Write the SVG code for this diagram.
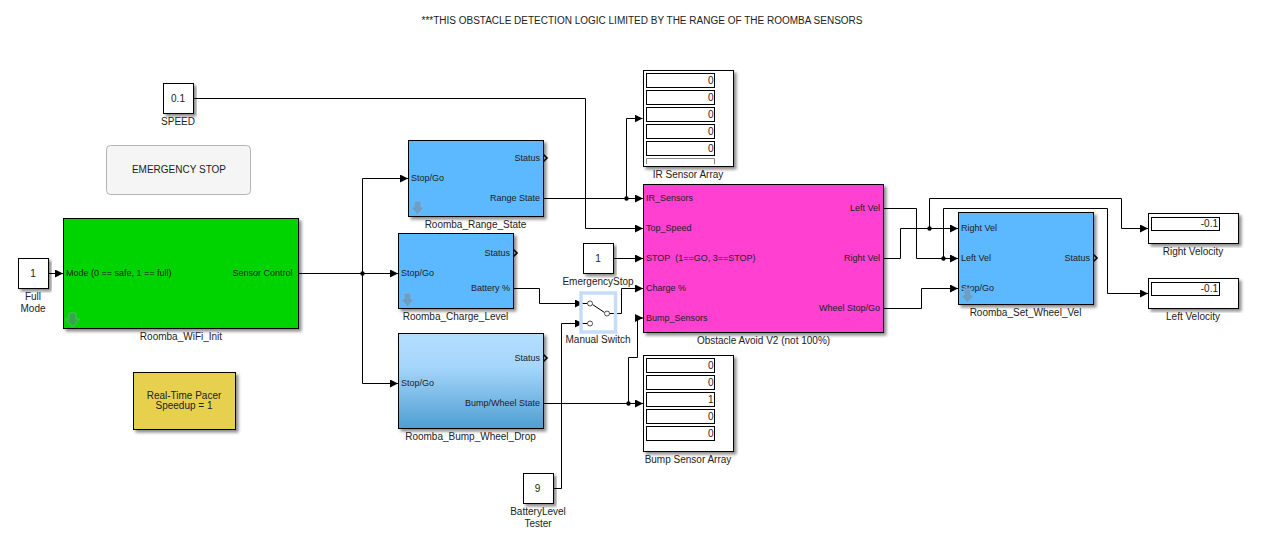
<svg xmlns="http://www.w3.org/2000/svg" width="1266" height="535" viewBox="0 0 1266 535">
<style>
text{font-family:"Liberation Sans",Arial,sans-serif;font-size:10px;fill:#222;white-space:pre}
.p{font-size:9px}
.e{text-anchor:end}
.m{text-anchor:middle}
.b{stroke:#000;stroke-width:1;fill:#fff;filter:url(#sh)}
.d{stroke:#000;stroke-width:1;fill:#fff}
.w{fill:none;stroke:#000;stroke-width:1}
.o{fill:#fff;stroke:#222;stroke-width:.8}
</style>
<defs>
<filter id="sh" x="-10%" y="-10%" width="120%" height="125%"><feDropShadow dx="2.5" dy="2.5" stdDeviation="1.4" flood-color="#000" flood-opacity=".45"/></filter>
<marker id="a" markerUnits="userSpaceOnUse" markerWidth="9" markerHeight="9" refX="8" refY="4" orient="auto"><path d="M0 0L8 4L0 8z" fill="#000"/></marker>
<linearGradient id="g" x1="0" y1="0" x2="0" y2="1"><stop offset="0" stop-color="#b3deff"/><stop offset=".35" stop-color="#a5d6fb"/><stop offset="1" stop-color="#4f9ed3"/></linearGradient>
<path id="ic" d="M3.500 .5h7v6h3.500L7 14.500 0 6.500h3.500z" fill="#6a9fc8" stroke="#7db6e0" stroke-width="1"/>
<path id="icg" d="M3.500 .5h7v6h3.500L7 14.500 0 6.500h3.500z" fill="#35a848" stroke="#4cc060" stroke-width="1"/>
<path id="out" d="M0 -3.500L3.500 0L0 3.500" fill="none" stroke="#000" stroke-width="1.600"/>
</defs>
<text class="m" x="642" y="24">***THIS OBSTACLE DETECTION LOGIC LIMITED BY THE RANGE OF THE ROOMBA SENSORS</text>
<g id="connectors">
<path class="w" marker-end="url(#a)" d="M48.500 273.500H63"/>
<path class="w" marker-end="url(#a)" d="M298.500 273.500H398"/>
<path class="w" marker-end="url(#a)" d="M362.500 273.500V178.500H408"/>
<path class="w" marker-end="url(#a)" d="M362.500 273.500V383.500H398"/>
<path class="w" marker-end="url(#a)" d="M193.500 98.500H585.500V228.500H643"/>
<path class="w" marker-end="url(#a)" d="M543.500 198.500H643"/>
<path class="w" marker-end="url(#a)" d="M626.500 198.500V118.500H642.500"/>
<path class="w" marker-end="url(#a)" d="M613.500 258.500H643"/>
<path class="w" marker-end="url(#a)" d="M513.500 288.500H539.500V303.500H583"/>
<path class="w" marker-end="url(#a)" d="M553.500 488.500H561.500V323.500H583"/>
<path class="w" marker-end="url(#a)" d="M609.500 313.500H621.500V288.500H643"/>
<path class="w" marker-end="url(#a)" d="M543.500 403.500H643"/>
<path class="w" marker-end="url(#a)" d="M628.500 403.500V357.500H637.500V318H643"/>
<path class="w" marker-end="url(#a)" d="M883.500 208.500H916.500V258.500H958"/>
<path class="w" marker-end="url(#a)" d="M943.500 258.500V208.500H1107.500V293.500H1148"/>
<path class="w" marker-end="url(#a)" d="M883.500 258.500H900.500V228.500H958"/>
<path class="w" marker-end="url(#a)" d="M929.500 228.500V198.500H1121.500V228.500H1148"/>
<path class="w" marker-end="url(#a)" d="M883.500 308.500H921.500V288.500H958"/>
<g fill="#000"><circle cx="362.500" cy="273.500" r="2.200"/><circle cx="626.500" cy="198.500" r="2.200"/><circle cx="628.500" cy="403.500" r="2.200"/><circle cx="943.500" cy="258.500" r="2.200"/><circle cx="929.500" cy="228.500" r="2.200"/></g>
</g>
<g id="speed"><rect class="b" x="163.500" y="83.500" width="30" height="30"/><text class="m" x="178" y="102">0.1</text><text class="m" x="178" y="125">SPEED</text></g>
<g id="emergency-stop-button"><rect x="106.500" y="145.500" width="144" height="49" rx="4" fill="#f5f5f5" stroke="#b4b4b4"/><text class="m" x="179" y="173">EMERGENCY STOP</text></g>
<g id="full-mode"><rect class="b" x="18.500" y="258.500" width="30" height="30"/><text class="m" x="33" y="277">1</text><text class="m" x="33" y="300">Full</text><text class="m" x="33" y="312">Mode</text></g>
<g id="wifi-init"><rect class="b" x="63.500" y="218.500" width="235" height="110" style="fill:#00d400"/><text class="p" x="66" y="276">Mode (0 == safe, 1 == full)</text><text class="p e" x="292.500" y="276">Sensor Control</text><use href="#icg" x="65.500" y="312.500"/><text class="m" x="181" y="340">Roomba_WiFi_Init</text></g>
<g id="pacer"><rect class="b" x="133.500" y="372.500" width="102" height="57" style="fill:#e8d04f"/><text class="m" x="184" y="399">Real-Time Pacer</text><text class="m" x="184" y="409">Speedup = 1</text></g>
<g id="range-state"><rect class="b" x="408.500" y="140.500" width="135" height="76" style="fill:#5cb8ff"/><text class="p" x="411" y="181">Stop/Go</text><text class="p e" x="540" y="161">Status</text><text class="p e" x="540" y="201">Range State</text><use href="#out" x="543.500" y="158"/><use href="#ic" x="410.500" y="200.500"/><text class="m" x="475.500" y="228">Roomba_Range_State</text></g>
<g id="charge-level"><rect class="b" x="398.500" y="233.500" width="115" height="75" style="fill:#5cb8ff"/><text class="p" x="401" y="276">Stop/Go</text><text class="p e" x="510" y="256">Status</text><text class="p e" x="510" y="291">Battery %</text><use href="#out" x="513.500" y="253"/><use href="#ic" x="400.500" y="292.500"/><text class="m" x="455.500" y="320">Roomba_Charge_Level</text></g>
<g id="bump-wheel"><rect class="b" x="398.500" y="333.500" width="145" height="95" style="fill:url(#g)"/><text class="p" x="401" y="386">Stop/Go</text><text class="p e" x="540" y="361">Status</text><text class="p e" x="540" y="406">Bump/Wheel State</text><use href="#out" x="543.500" y="358"/><text class="m" x="470.500" y="440">Roomba_Bump_Wheel_Drop</text></g>
<g id="emergency-stop"><rect class="b" x="583.500" y="243.500" width="30" height="30"/><text class="m" x="598" y="262">1</text><text class="m" x="598" y="285">EmergencyStop</text></g>
<g id="manual-switch"><rect x="581" y="293" width="34.500" height="39" fill="none" stroke="#c5dcfb" stroke-width="3.500"/><path class="w" d="M583 303.500H587.500M583 323.500H587.500M592.500 304.500L604.500 312.500"/><circle class="o" cx="590" cy="303.500" r="2.500"/><circle class="o" cx="590" cy="323.500" r="2.500"/><circle class="o" cx="607" cy="313.500" r="2.500"/><text class="m" x="598" y="343">Manual Switch</text></g>
<g id="battery-tester"><rect class="b" x="523.500" y="473.500" width="30" height="30"/><text class="m" x="537.500" y="492">9</text><text class="m" x="538" y="515">BatteryLevel</text><text class="m" x="538" y="527">Tester</text></g>
<g id="ir-array"><rect class="b" x="643.500" y="70.500" width="90" height="96"/><rect class="d" x="646.500" y="73.500" width="68" height="14"/><rect class="d" x="646.500" y="90.500" width="68" height="14"/><rect class="d" x="646.500" y="107.500" width="68" height="14"/><rect class="d" x="646.500" y="124.500" width="68" height="14"/><rect class="d" x="646.500" y="141.500" width="68" height="14"/><path d="M646.500 164V158.500H714.500V164" fill="none" stroke="#888"/><text class="e" x="713.500" y="84">0</text><text class="e" x="713.500" y="101">0</text><text class="e" x="713.500" y="118">0</text><text class="e" x="713.500" y="135">0</text><text class="e" x="713.500" y="152">0</text><text class="m" x="688" y="178">IR Sensor Array</text></g>
<g id="obstacle-avoid"><rect class="b" x="643.500" y="184.500" width="240" height="148" style="fill:#ff40d0"/><text class="p" x="646" y="201">IR_Sensors</text><text class="p" x="646" y="231">Top_Speed</text><text class="p" x="646" y="261">STOP  (1==GO, 3==STOP)</text><text class="p" x="646" y="291">Charge %</text><text class="p" x="646" y="321">Bump_Sensors</text><text class="p e" x="880" y="211">Left Vel</text><text class="p e" x="880" y="261">Right Vel</text><text class="p e" x="880" y="311">Wheel Stop/Go</text><text class="m" x="763.500" y="344">Obstacle Avoid V2 (not 100%)</text></g>
<g id="bump-array"><rect class="b" x="643.500" y="355.500" width="90" height="96"/><rect class="d" x="646.500" y="358.500" width="68" height="14"/><rect class="d" x="646.500" y="375.500" width="68" height="14"/><rect class="d" x="646.500" y="392.500" width="68" height="14"/><rect class="d" x="646.500" y="409.500" width="68" height="14"/><rect class="d" x="646.500" y="426.500" width="68" height="14"/><text class="e" x="713.500" y="369">0</text><text class="e" x="713.500" y="386">0</text><text class="e" x="713.500" y="403">1</text><text class="e" x="713.500" y="420">0</text><text class="e" x="713.500" y="437">0</text><text class="m" x="688" y="463">Bump Sensor Array</text></g>
<g id="set-wheel-vel"><rect class="b" x="958.500" y="212.500" width="135" height="92" style="fill:#5cb8ff"/><text class="p" x="961" y="231">Right Vel</text><text class="p" x="961" y="261">Left Vel</text><text class="p" x="961" y="291">Stop/Go</text><text class="p e" x="1090" y="261">Status</text><use href="#out" x="1093.500" y="258"/><use href="#ic" x="960.500" y="288.500"/><text class="m" x="1025.500" y="316">Roomba_Set_Wheel_Vel</text></g>
<g id="right-velocity"><rect class="b" x="1148.500" y="213.500" width="90" height="30"/><rect class="d" x="1151.500" y="217.500" width="68" height="13"/><text class="e" x="1218" y="227">-0.1</text><text class="m" x="1193" y="255">Right Velocity</text></g>
<g id="left-velocity"><rect class="b" x="1148.500" y="278.500" width="90" height="30"/><rect class="d" x="1151.500" y="282.500" width="68" height="13"/><text class="e" x="1218" y="292">-0.1</text><text class="m" x="1193" y="320">Left Velocity</text></g>
</svg>
